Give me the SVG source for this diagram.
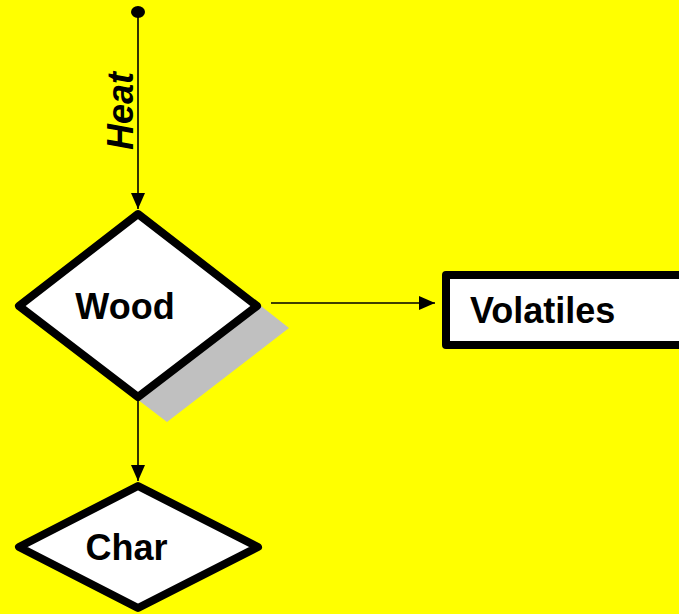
<svg xmlns="http://www.w3.org/2000/svg" width="679" height="614" viewBox="0 0 679 614">
<defs>
<style>
.node{fill:#fff;stroke:#000;stroke-width:8;stroke-linejoin:round}
.lbl{font-family:"Liberation Sans",Arial,sans-serif;font-weight:bold;font-size:36px;fill:#000}
.con{stroke:#000;stroke-width:1.6;fill:none}
</style>
<marker id="ah" viewBox="0 0 16 14" refX="16" refY="7" markerWidth="16" markerHeight="14" markerUnits="userSpaceOnUse" orient="auto">
<path d="M0,0 L16,7 L0,14 Z" fill="#000"/>
</marker>
</defs>
<rect x="0" y="0" width="679" height="614" fill="#ffff00"/>
<g id="connectors">
<ellipse cx="138" cy="12" rx="7" ry="6" fill="#000"/>
<line class="con" x1="138" y1="12" x2="138" y2="209" marker-end="url(#ah)"/>
<text class="lbl" font-style="italic" transform="translate(133,111) rotate(-90)" text-anchor="middle">Heat</text>
<line class="con" x1="271" y1="303" x2="435" y2="303" marker-end="url(#ah)"/>
<line class="con" x1="138" y1="400" x2="138" y2="481" marker-end="url(#ah)"/>
</g>
<g id="wood">
<polygon points="167,232 44,328 167,422 289,328" fill="#c0c0c0"/>
<polygon class="node" points="138,214 19,306 138,397 257,306"/>
<text class="lbl" x="125" y="319" text-anchor="middle">Wood</text>
</g>
<g id="volatiles">
<rect class="node" x="446" y="275" width="260" height="70" stroke-linejoin="miter"/>
<text class="lbl" x="470" y="323">Volatiles</text>
</g>
<g id="char">
<polygon class="node" points="138,486 19,547 138,608 258,547"/>
<text class="lbl" x="126.5" y="560" text-anchor="middle">Char</text>
</g>
</svg>
